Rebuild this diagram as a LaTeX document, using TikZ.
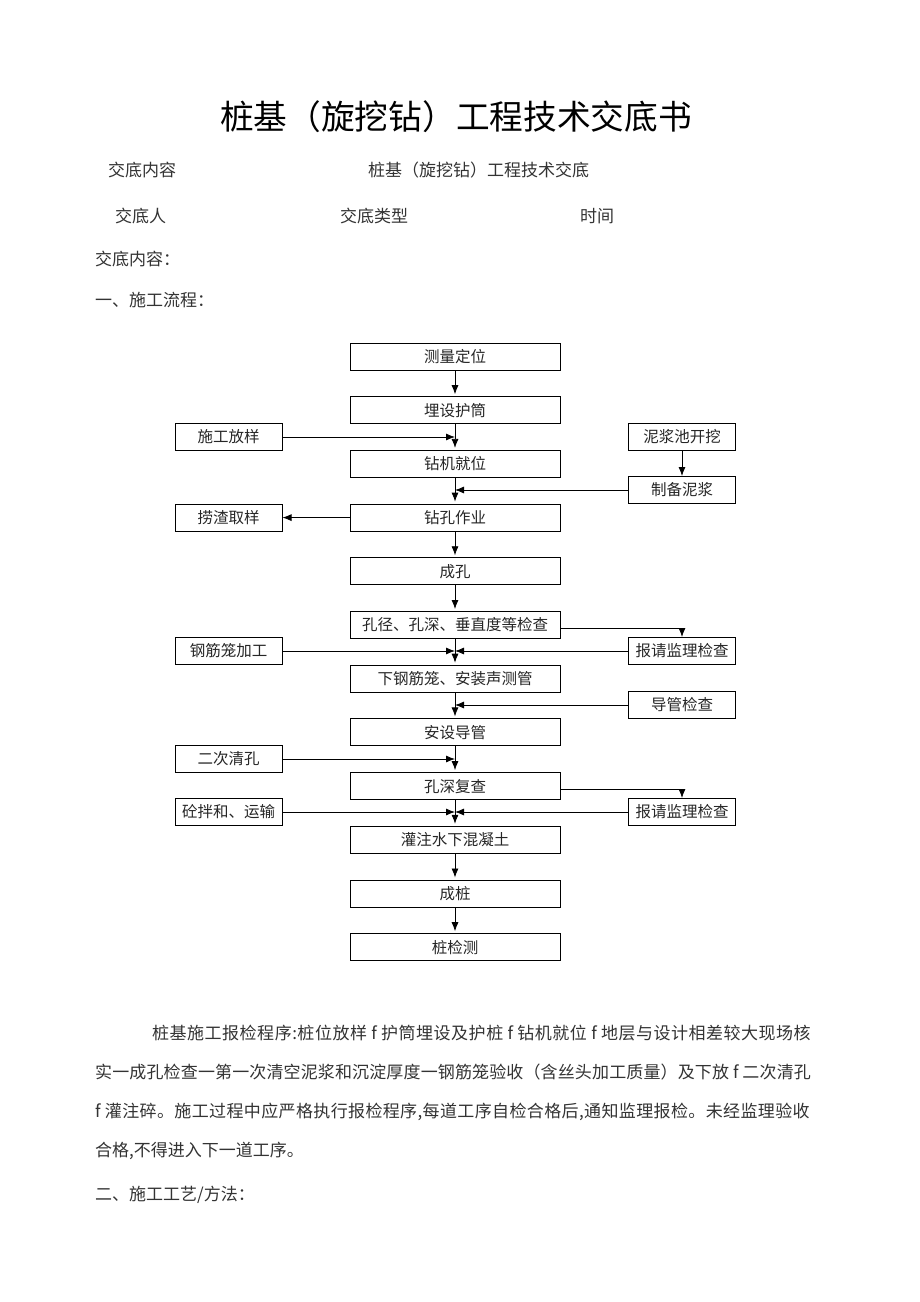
\documentclass[tikz,border=0pt]{standalone}
\usepackage{fontspec}
\setmainfont{Noto Sans CJK SC}
\usetikzlibrary{positioning, arrows.meta}

\begin{document}
\begin{tikzpicture}[
    x=1pt, y=-1pt,
    node distance=25.7pt and 67pt,
    stepbox/.style={rectangle, draw, line width=1pt, minimum height=27pt, minimum width=#1, inner sep=0pt, font=\fontsize{15.5}{15.5}\selectfont, text=black!85},
    stepbox/.default=210pt,
    sidebox/.style={stepbox=107pt},
    arr/.style={-{Latex[length=9pt, width=7pt]}, line width=0.8pt},
    body/.style={anchor=west, inner sep=0pt, font=\fontsize{17}{17}\selectfont, text=black!80},
]

\fill[white] (0, 0) rectangle (920, 1302);
\useasboundingbox (0, 0) rectangle (920, 1302);

% heading
\node[inner sep=0pt, font=\fontsize{33.7}{33.7}\selectfont] (title) at (456, 117) {桩基（旋挖钻）工程技术交底书};
\node[body] (hdr1) at (108, 170) {交底内容};
\node[body] (hdr2) at (368, 170) {桩基（旋挖钻）工程技术交底};
\node[body] (who) at (115, 216) {交底人};
\node[body] (kind) at (340, 216) {交底类型};
\node[body] (when) at (580, 216) {时间};
\node[body] (cont) at (95, 259) {交底内容：};
\node[body] (sec1) at (95, 300) {一、施工流程：};

% main flow
\node[stepbox] (m1) at (455, 356.5) {测量定位};
\node[stepbox, below=of m1] (m2) {埋设护筒};
\node[stepbox, below=of m2] (m3) {钻机就位};
\node[stepbox, below=of m3] (m4) {钻孔作业};
\node[stepbox, below=of m4] (m5) {成孔};
\node[stepbox, below=of m5] (m6) {孔径、孔深、垂直度等检查};
\node[stepbox, below=of m6] (m7) {下钢筋笼、安装声测管};
\node[stepbox, below=of m7] (m8) {安设导管};
\node[stepbox, below=of m8] (m9) {孔深复查};
\node[stepbox, below=of m9] (m10) {灌注水下混凝土};
\node[stepbox, below=of m10] (m11) {成桩};
\node[stepbox, below=of m11] (m12) {桩检测};

\foreach \a/\b in {m1/m2, m2/m3, m3/m4, m4/m5, m5/m6, m6/m7, m7/m8, m8/m9, m9/m10, m10/m11, m11/m12}
    \draw[arr, shorten >=2pt] (\a) -- (\b);

% side boxes
\node[sidebox] (l1) at (228.5, 437) {施工放样};
\node[sidebox, left=of m4] (l2) {捞渣取样};
\node[sidebox] (l3) at (228.5, 651) {钢筋笼加工};
\node[sidebox] (l4) at (228.5, 759) {二次清孔};
\node[sidebox] (l5) at (228.5, 812) {砼拌和、运输};

\node[sidebox] (r1) at (682, 437) {泥浆池开挖};
\node[sidebox] (r2) at (682, 490) {制备泥浆};
\node[sidebox] (r3) at (682, 651) {报请监理检查};
\node[sidebox] (r4) at (682, 705) {导管检查};
\node[sidebox] (r5) at (682, 812) {报请监理检查};

% side connectors
\draw[arr] (l1.east) -- (l1.east -| m2.south);
\draw[arr] (r1) -- (r2);
\draw[arr] (r2.west) -- (r2.west -| m3.south);
\draw[arr] (m4.west) -- (l2.east);
\draw[arr] ([yshift=-3pt]m6.east) -| (r3.north);
\draw[arr] (l3.east) -- (l3.east -| m6.south);
\draw[arr] (r3.west) -- (r3.west -| m6.south);
\draw[arr] (r4.west) -- (r4.west -| m7.south);
\draw[arr] (l4.east) -- (l4.east -| m8.south);
\draw[arr] ([yshift=-3pt]m9.east) -| (r5.north);
\draw[arr] (l5.east) -- (l5.east -| m9.south);
\draw[arr] (r5.west) -- (r5.west -| m9.south);

% text below
\node[body] (p1) at (152, 1033) {\addfontfeature{LetterSpace=3}桩基施工报检程序:桩位放样 f 护筒埋设及护桩 f 钻机就位 f 地层与设计相差较大现场核};
\node[body] (p2) at (95, 1072) {\addfontfeature{LetterSpace=0.8}实一成孔检查一第一次清空泥浆和沉淀厚度一钢筋笼验收（含丝头加工质量）及下放 f 二次清孔};
\node[body] (p3) at (95, 1112) {\addfontfeature{LetterSpace=2.2}f 灌注碎。施工过程中应严格执行报检程序,每道工序自检合格后,通知监理报检。未经监理验收};
\node[body] (p4) at (95, 1151) {合格,不得进入下一道工序。};
\node[body] (sec2) at (95, 1195) {二、施工工艺/方法：};

\end{tikzpicture}
\end{document}
